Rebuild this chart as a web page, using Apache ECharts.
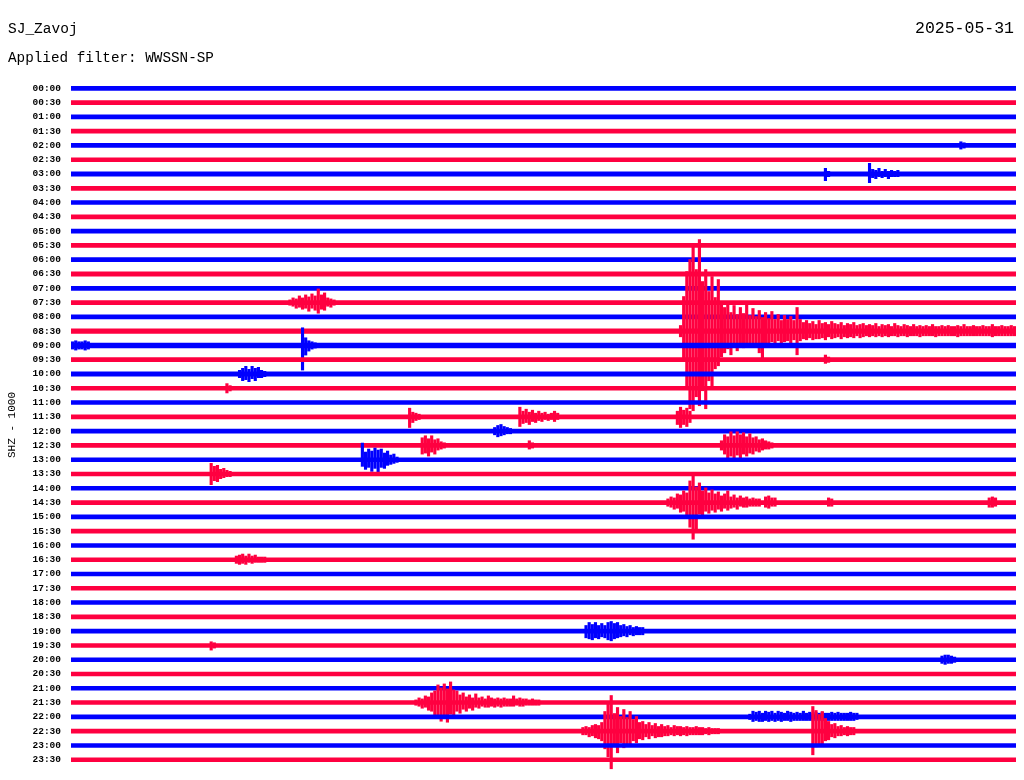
<!DOCTYPE html>
<html>
<head>
<meta charset="utf-8">
<script src="https://cdn.jsdelivr.net/npm/echarts@6/dist/echarts.min.js"></script>
<style>
html,body{margin:0;padding:0;background:#fff;}
#c{width:1024px;height:780px;}
</style>
</head>
<body>
<div id="c"></div>
<script>
// ---- data ----
const STATION = 'SJ_Zavoj';
const DATE = '2025-05-31';
const FILTER = 'Applied filter: WWSSN-SP';
const CHANNEL = 'SHZ - 1000';
const LABELS = ['00:00','00:30','01:00','01:30','02:00','02:30','03:00','03:30','04:00','04:30',
  '05:00','05:30','06:00','06:30','07:00','07:30','08:00','08:30','09:00','09:30',
  '10:00','10:30','11:00','11:30','12:00','12:30','13:00','13:30','14:00','14:30',
  '15:00','15:30','16:00','16:30','17:00','17:30','18:00','18:30','19:00','19:30',
  '20:00','20:30','21:00','21:30','22:00','22:30','23:00','23:30'];
// background noise half-amplitude per trace (amplitude units, 14.3 units = one trace spacing)
const NOISE = [2.4,2.4,2.3,2.4,2.4,2.3,2.4,2.4,2.3,2.3,
  2.4,2.4,2.4,2.4,2.4,2.4,2.4,2.6,2.7,2.4,
  2.4,2.3,2.3,2.3,2.4,2.4,2.3,2.3,2.3,2.4,
  2.3,2.3,2.3,2.3,2.3,2.3,2.3,2.3,2.4,2.3,
  2.3,2.3,2.3,2.3,2.4,2.3,2.3,2.3];
const GAIN = 14.3;          // amplitude units per trace spacing
const SPAN = 30;            // minutes per trace
const STEP = 0.1;           // minutes between envelope samples
// events: [trace index, start minute, upper envelope, lower envelope]
const EVENTS = [
  [4, 28.2, [4,3], [4,3]],
  [6, 23.9, [6,3], [7,3]],
  [6, 25.3, [11,5,4,6,3,5,3,4,3,4], [9,4,5,3,4,3,5,3,3,3]],
  [15, 6.9, [3,5,4,7,5,8,6,9,7,14,8,10,5,4,3], [3,4,6,5,7,6,9,6,8,11,7,8,4,5,3]],
  [17, 19.3,
    [6,35,60,72,85,62,92,50,62,40,55,34,52,28,24,30,19,26,17,24,18,27,16,23,15,21,14,19,13,20,
     12,17,11,16,12,15,11,24,12,9,11,8,10,7,11,8,9,7,10,8,7,9,6,8,7,9,6,7,8,6,
     7,6,8,5,7,6,7,5,8,6,5,7,6,5,7,5,6,5,6,5,7,5,5,6,5,6,5,5,6,5,7,5,5,6,5,5,
     6,5,5,7,5,5,6,5,5,6,5],
    [6,30,55,78,80,66,75,60,78,50,55,38,35,26,22,18,24,16,20,14,17,13,16,12,14,22,27,13,14,11,
     13,10,12,11,10,12,9,24,10,8,9,7,9,8,8,7,9,6,8,7,6,8,6,7,6,7,5,7,6,5,
     6,5,6,5,6,5,6,5,5,6,5,5,6,5,5,5,6,5,5,5,5,6,5,5,5,5,5,5,6,5,5,5,5,5,5,5,
     5,5,5,6,5,5,5,5,5,5,5]],
  [18, 0.0, [4,5,4,4,5,4], [4,5,4,4,5,4]],
  [18, 7.3, [18,8,5,4,3], [25,10,6,4,3]],
  [19, 23.9, [5,3], [4,3]],
  [20, 5.3, [4,6,8,5,8,6,7,4,3], [4,7,6,8,5,7,4,4,3]],
  [21, 4.9, [5,3], [5,3]],
  [23, 10.7, [9,5,4,3], [11,6,4,3]],
  [23, 14.2, [10,6,8,5,7,4,6,4,5,3,4,6,4], [10,7,6,8,5,6,4,5,3,4,3,5,3]],
  [23, 19.2, [6,10,7,9,6], [8,11,8,10,6]],
  [24, 13.4, [4,6,7,5,4,3], [4,6,5,4,3,3]],
  [25, 11.1, [8,10,7,10,6,7,4,3], [9,8,11,7,9,5,4,3]],
  [25, 14.5, [5,3], [4,3]],
  [25, 20.6, [5,11,9,14,10,14,11,13,9,12,8,9,6,7,5,4,3], [5,9,13,11,14,10,13,9,11,8,9,6,7,5,4,4,3]],
  [26, 9.2, [17,8,11,9,12,10,11,7,9,5,6,3], [7,10,8,12,9,13,8,9,6,5,4,3]],
  [27, 4.4, [11,8,9,5,6,4,3], [11,7,8,5,4,3,3]],
  [29, 18.9,
    [4,6,5,9,8,12,10,22,28,16,20,12,15,10,13,9,11,7,9,12,6,8,5,7,5,6,4,5,4,4],
    [4,5,7,6,10,9,13,25,37,28,12,14,9,11,8,10,7,9,6,8,6,5,7,4,5,5,4,4,4,4]],
  [29, 22.0, [6,7,5,5], [5,6,4,4]],
  [29, 24.0, [5,4], [4,4]],
  [29, 29.1, [5,6,5], [5,5,4]],
  [33, 5.2, [4,5,6,4,6,4,5,3,3,3], [4,5,4,5,3,4,3,3,3,3]],
  [38, 16.3, [6,9,7,9,6,8,6,9,10,8,9,6,7,5,6,4,5,4,4], [7,8,9,7,8,6,7,9,10,8,7,6,5,6,4,5,4,4,4]],
  [39, 4.4, [4,3], [5,3]],
  [40, 27.6, [4,5,5,4,3], [4,5,4,4,3]],
  [43, 10.9,
    [3,5,4,7,6,10,12,18,15,19,14,21,13,12,8,10,6,8,5,9,5,6,4,7,5,4,5,4,5,4,4,7,4,5,4,4,3,4,3,3],
    [3,4,6,5,8,9,14,16,19,13,20,12,14,9,11,7,9,6,8,5,6,4,5,5,4,5,4,5,4,4,4,4,3,4,4,3,3,3,3,3]],
  [44, 21.5,
    [3,6,5,6,4,6,5,6,4,6,5,4,6,5,4,5,4,6,4,5,4,5,4,5,4,4,5,4,5,4,4,4,5,4,4],
    [3,5,4,5,5,4,5,4,5,4,5,4,4,5,4,4,4,4,4,4,4,4,4,4,4,4,4,4,4,4,4,4,4,4,3]],
  [45, 16.2,
    [4,5,4,6,7,6,9,20,30,36,18,24,15,22,14,20,12,15,9,10,7,9,6,8,5,7,5,6,4,6,5,5,4,5,4,4,5,4,4,3,4,3,3,3],
    [4,4,6,5,7,8,10,18,26,38,16,22,12,17,13,15,10,12,8,9,6,8,5,7,6,6,5,5,4,5,4,5,4,5,4,4,4,4,4,3,4,3,3,3]],
  [45, 23.5, [25,21,17,20,13,10,7,8,5,6,4,5,4,4], [24,16,13,15,10,9,6,7,5,5,4,5,4,4]]
];

// ---- build items (in trace order, later traces drawn on top) ----
const items = [];
for (let tr = 0; tr < LABELS.length; tr++) {
  items.push([0, tr, NOISE[tr], NOISE[tr], SPAN]);
  EVENTS.filter(e => e[0] === tr).forEach(e => {
    const up = e[2], dn = e[3];
    for (let k = 0; k < up.length; k++) {
      const t = e[1] + k * STEP;
      items.push([t, tr, Math.max(up[k], NOISE[tr]), Math.max(dn[k], NOISE[tr]), Math.min(t + STEP, SPAN)]);
    }
  });
}

const BLUE = '#0000ff';
const RED = '#ff0040';
const MONO = '"Liberation Mono", "DejaVu Sans Mono", monospace';

const chart = echarts.init(document.getElementById('c'), null, {renderer: 'canvas'});
chart.setOption({
  animation: false,
  backgroundColor: '#ffffff',
  grid: {left: 71, right: 8, top: 74, height: 700},
  xAxis: {type: 'value', min: 0, max: SPAN, show: false},
  yAxis: {
    type: 'value', inverse: true, min: -1, max: 48, interval: 1,
    axisLine: {show: false}, axisTick: {show: false}, splitLine: {show: false},
    axisLabel: {
      margin: 10, color: '#000', fontFamily: MONO, fontSize: 9.5, fontWeight: 'bold',
      formatter: v => (v >= 0 && v < LABELS.length) ? LABELS[v] : ''
    }
  },
  graphic: [
    {type: 'text', left: 8, top: 22, style: {text: STATION, font: '14.5px ' + MONO, fill: '#000'}},
    {type: 'text', left: 8, top: 51, style: {text: FILTER, font: '14.3px ' + MONO, fill: '#000'}},
    {type: 'text', right: 10, top: 20, style: {text: DATE, font: '16.5px ' + MONO, fill: '#000'}},
    {type: 'text', x: 12, y: 425, rotation: Math.PI / 2,
      style: {text: CHANNEL, font: '11px ' + MONO, fill: '#000', align: 'center', verticalAlign: 'middle'}}
  ],
  series: [{
    type: 'custom',
    coordinateSystem: 'cartesian2d',
    clip: false,
    data: items,
    encode: {x: 0, y: 1},
    renderItem: function (params, api) {
      const t0 = api.value(0), tr = api.value(1), up = api.value(2), dn = api.value(3), t1 = api.value(4);
      const p0 = api.coord([t0, tr - up / GAIN]);
      const p1 = api.coord([t1, tr + dn / GAIN]);
      return {
        type: 'rect',
        shape: {x: p0[0], y: p0[1], width: p1[0] - p0[0], height: p1[1] - p0[1]},
        style: {fill: tr % 2 ? RED : BLUE}
      };
    }
  }]
});
</script>
</body>
</html>
